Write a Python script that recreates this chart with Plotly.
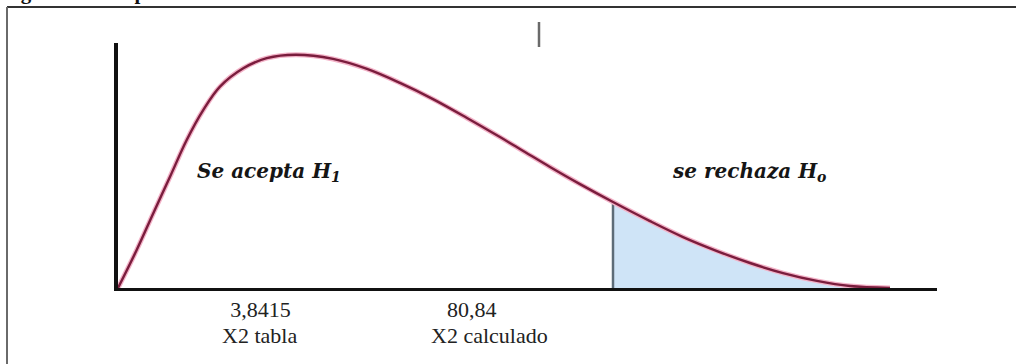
import plotly.graph_objects as go

# ---- data (x and y in arbitrary schematic units 0-100) ----
curve_x = [0, 2.28, 4.31, 6.35, 8.39, 10.42, 12.45, 15.3, 18.16, 21.7, 26.25, 30.4,
           34.43, 38.46, 42.61, 46.64, 49.69, 52.75, 56.41, 60.44, 64.96, 68.99, 73.14,
           77.17, 81.2, 85.35, 89.38, 94.26]
curve_y = [0, 15.5, 30.5, 45.4, 60.4, 72.7, 82.2, 89.7, 93.8, 95.2, 93.5, 89.4,
           83.7, 77.1, 69.4, 61.6, 55.5, 49.4, 42.4, 35.1, 27.3, 20.8, 15.1,
           10.2, 6.1, 2.9, 0.8, 0]
critical_x = 60.44
tick_positions = [17.4, 43.2]
tick_numbers = ["3,8415", "80,84"]
tick_names = ["X2 tabla", "X2 calculado"]
tick_name_positions = [17.3, 45.3]
region_labels = ["<b><i>Se acepta H<sub>1</sub></i></b>", "<b><i>se rechaza H<sub>o</sub></i></b>"]
region_label_x = [18.4, 77.1]
region_label_y = 47.5
title_text = "<b>Figura 4. Interpretación del resultado</b>"

W, H = 1016, 364
L, R, T, B = 118, 79, 43, 76
PW, PH = W - L - R, H - T - B


def px_x(p):
    return (p - L) / PW


def px_y(p):
    return (H - B - p) / PH


tail_x = [x for x in curve_x if x >= critical_x]
tail_y = [y for x, y in zip(curve_x, curve_y) if x >= critical_x]
crit_y = curve_y[curve_x.index(critical_x)]

fig = go.Figure()
fig.add_trace(go.Scatter(x=tail_x, y=tail_y, mode="lines", line=dict(width=0, shape="spline"),
                         fill="tozeroy", fillcolor="#cfe4f7", hoverinfo="skip", showlegend=False))
fig.add_trace(go.Scatter(x=[critical_x, critical_x], y=[0, crit_y], mode="lines",
                         line=dict(color="#5d6c78", width=2.5), showlegend=False))
fig.add_trace(go.Scatter(x=curve_x, y=curve_y, mode="lines",
                         line=dict(color="#f3b3c8", width=5, shape="spline", smoothing=1.0),
                         showlegend=False, hoverinfo="skip"))
fig.add_trace(go.Scatter(x=curve_x, y=curve_y, mode="lines",
                         line=dict(color="#7a1d3d", width=2.4, shape="spline", smoothing=1.0),
                         showlegend=False))

annotations = []
for t, x in zip(region_labels, region_label_x):
    annotations.append(dict(x=x, y=region_label_y, xref="x", yref="y", text=t, showarrow=False,
                            font=dict(family="DejaVu Serif", size=20, color="#151515"),
                            xanchor="center", yanchor="middle"))
for t, x in zip(tick_names, tick_name_positions):
    annotations.append(dict(x=x, y=px_y(335), xref="x", yref="paper", text=t, showarrow=False,
                            font=dict(family="Liberation Serif", size=22, color="#222222"),
                            xanchor="center", yanchor="middle"))
annotations.append(dict(x=px_x(0), y=px_y(6), xref="paper", yref="paper", text=title_text,
                        showarrow=False, xanchor="left", yanchor="bottom",
                        font=dict(family="Liberation Serif", size=21, color="#111111")))

shapes = [
    dict(type="line", xref="paper", yref="paper", x0=px_x(7), x1=px_x(1016), y0=px_y(7), y1=px_y(7),
         line=dict(color="#333333", width=2)),
    dict(type="line", xref="paper", yref="paper", x0=px_x(7), x1=px_x(7), y0=px_y(7), y1=px_y(364),
         line=dict(color="#6a6a6a", width=2)),
    dict(type="line", xref="paper", yref="paper", x0=px_x(539), x1=px_x(539), y0=px_y(22), y1=px_y(47),
         line=dict(color="#6a6a6a", width=2.5)),
]

fig.update_layout(
    width=W, height=H,
    margin=dict(l=L, r=R, t=T, b=B),
    paper_bgcolor="white", plot_bgcolor="white",
    showlegend=False,
    xaxis=dict(range=[0, 100], showline=True, linecolor="#111111", linewidth=3,
               showgrid=False, zeroline=False, ticks="",
               tickvals=tick_positions, ticktext=tick_numbers,
               tickfont=dict(family="Liberation Serif", size=22, color="#222222")),
    yaxis=dict(range=[0, 100], showline=True, linecolor="#111111", linewidth=4,
               showgrid=False, zeroline=False, showticklabels=False, ticks=""),
    annotations=annotations,
    shapes=shapes,
)

fig.write_html("out.html", config={"displayModeBar": False},
               post_script="document.body.style.margin='0';")
